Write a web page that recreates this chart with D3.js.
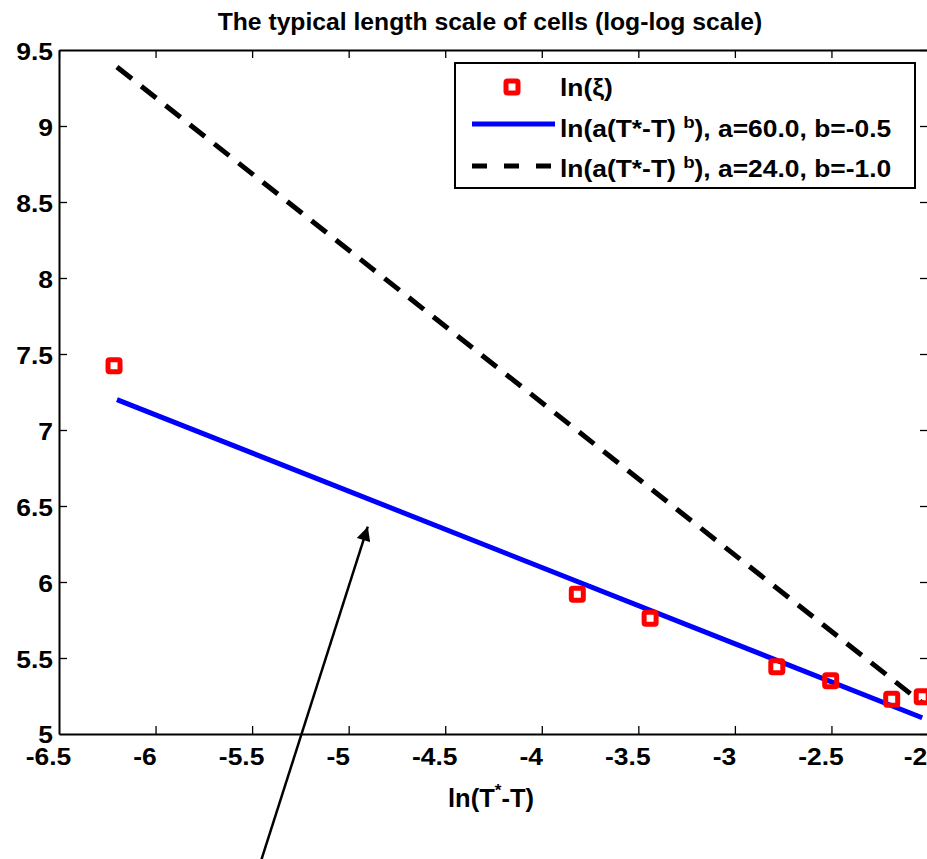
<!DOCTYPE html>
<html>
<head>
<meta charset="utf-8">
<script src="https://cdn.jsdelivr.net/npm/d3@7"></script>
<style>
  html, body { margin: 0; padding: 0; background: #fff; overflow: hidden; }
  svg { display: block; }
  text { font-family: "Liberation Sans", Arial, Helvetica, sans-serif; font-weight: bold; fill: #000; }
</style>
</head>
<body>
<svg id="chart" width="927" height="859"></svg>
<script>
// ---- data ----
const dataX = [-6.215, -3.816, -3.439, -2.783, -2.504, -2.188, -2.03];
const dataY = [7.423, 5.919, 5.761, 5.443, 5.351, 5.228, 5.245];

const fitX = [-6.2, -2.03];
const fitBlue = [7.20, 5.107];   // ln(60 (T*-T)^-0.5)
const fitBlack = [9.388, 5.204]; // ln(24 (T*-T)^-1.0)

const xTicks = [-6.5, -6, -5.5, -5, -4.5, -4, -3.5, -3, -2.5, -2];
const xTickLabels = ["-6.5", "-6", "-5.5", "-5", "-4.5", "-4", "-3.5", "-3", "-2.5", "-2"];
const yTicks = [5, 5.5, 6, 6.5, 7, 7.5, 8, 8.5, 9, 9.5];
const yTickLabels = ["5", "5.5", "6", "6.5", "7", "7.5", "8", "8.5", "9", "9.5"];

// annotation arrow (data coordinates: tail, tip)
const arrowX = [-5.469, -4.901];
const arrowY = [4.105, 6.364];

const titleText = "The typical length scale of cells (log-log scale)";
const legendLabels = ["ln(ξ)", ["60.0", "-0.5"], ["24.0", "-1.0"]];

// ---- layout ----
const svg = d3.select("#chart");
const mLeft = 59, mRight = 928, mTop = 50, mBottom = 734;
const x = d3.scaleLinear().domain([-6.5, -2]).range([mLeft, mRight]);
const y = d3.scaleLinear().domain([5, 9.5]).range([mBottom, mTop]);
const SX = 1.15; // horizontal stretch of the reference's glyphs

const defs = svg.append("defs");
defs.append("clipPath").attr("id", "plotclip")
  .append("rect").attr("x", mLeft).attr("y", mTop).attr("width", mRight - mLeft).attr("height", mBottom - mTop);
defs.append("marker").attr("id", "arrowhead")
  .attr("viewBox", "0 0 10 10").attr("refX", 10).attr("refY", 5)
  .attr("markerWidth", 15).attr("markerHeight", 14).attr("markerUnits", "userSpaceOnUse")
  .attr("orient", "auto")
  .append("path").attr("d", "M0,0 L10,5 L0,10 Z").attr("fill", "#000");

// title
svg.append("text").attr("x", 490).attr("y", 30)
  .attr("text-anchor", "middle").style("font-size", "24.7px")
  .text(titleText);

// axes (MATLAB-like box with inward ticks)
const xAxisB = d3.axisBottom(x).tickValues(xTicks).tickSize(-8).tickFormat((d, i) => xTickLabels[i]).tickSizeOuter(0);
const xAxisT = d3.axisTop(x).tickValues(xTicks).tickSize(-8).tickFormat("").tickSizeOuter(0);
const yAxisL = d3.axisLeft(y).tickValues(yTicks).tickSize(-8).tickFormat((d, i) => yTickLabels[i]).tickSizeOuter(0);
const yAxisR = d3.axisRight(y).tickValues(yTicks).tickSize(-8).tickFormat("").tickSizeOuter(0);

const gB = svg.append("g").attr("transform", `translate(0,${mBottom})`).call(xAxisB);
const gT = svg.append("g").attr("transform", `translate(0,${mTop})`).call(xAxisT);
const gL = svg.append("g").attr("transform", `translate(${mLeft},0)`).call(yAxisL);
const gR = svg.append("g").attr("transform", `translate(${mRight},0)`).call(yAxisR);
[gB, gT, gL, gR].forEach(g => {
  g.select(".domain").attr("stroke", "#000").attr("stroke-width", 2);
  g.selectAll(".tick line").attr("stroke", "#000").attr("stroke-width", 1.3);
  g.selectAll(".tick text").attr("fill", "#000")
    .style("font-family", '"Liberation Sans", Arial, sans-serif')
    .style("font-weight", "bold").style("font-size", "23px");
});
gB.selectAll(".tick text").attr("x", 0).attr("y", 0).attr("dy", 0)
  .attr("transform", d => `translate(${d === -2 ? -13 : -11},31) scale(${SX},1)`);
gL.selectAll(".tick text").attr("x", 0).attr("y", 0).attr("dy", 0)
  .attr("transform", d => `translate(-6,${d === 5 ? 8.5 : 9.5}) scale(${SX},1)`);
gB.selectAll(".tick").filter(d => d === -6.5).select("line").remove();
gB.selectAll(".tick").filter(d => d === -2).select("line").remove();
gL.selectAll(".tick").filter(d => d === 5 || d === 9.5).select("line").remove();

// x label
const xl = svg.append("text").attr("x", 491).attr("y", 807)
  .attr("text-anchor", "middle").style("font-size", "25.5px");
xl.append("tspan").text("ln(T");
xl.append("tspan").text("*").style("font-size", "17px").attr("dy", -11);
xl.append("tspan").text("-T)").attr("dy", 11);

// plot content
const plot = svg.append("g").attr("clip-path", "url(#plotclip)");
const line = d3.line().x(d => x(d[0])).y(d => y(d[1]));

plot.append("path").datum(fitX.map((v, i) => [v, fitBlack[i]]))
  .attr("d", line).attr("fill", "none").attr("stroke", "#000")
  .attr("stroke-width", 5).attr("stroke-dasharray", "19,12");

plot.append("path").datum(fitX.map((v, i) => [v, fitBlue[i]]))
  .attr("d", line).attr("fill", "none").attr("stroke", "#0000ff")
  .attr("stroke-width", 5);

plot.selectAll("rect.pt").data(dataX.map((v, i) => [v, dataY[i]]))
  .join("rect").attr("class", "pt")
  .attr("x", d => x(d[0]) - 6).attr("y", d => y(d[1]) - 6)
  .attr("width", 12).attr("height", 12).attr("rx", 1.5)
  .attr("fill", "none").attr("stroke", "#ff0000").attr("stroke-width", 5);

// legend
const lg = svg.append("g");
lg.append("rect").attr("x", 455).attr("y", 63).attr("width", 460).attr("height", 125)
  .attr("fill", "#fff").attr("stroke", "#000").attr("stroke-width", 2);
const rows = [96, 137, 177];
lg.append("rect").attr("x", 512 - 6).attr("y", rows[0] - 9 - 6).attr("width", 12).attr("height", 12)
  .attr("rx", 1.5).attr("fill", "none").attr("stroke", "#ff0000").attr("stroke-width", 5);
lg.append("line").attr("x1", 472).attr("x2", 555).attr("y1", rows[1] - 13).attr("y2", rows[1] - 13)
  .attr("stroke", "#0000ff").attr("stroke-width", 5);
lg.append("line").attr("x1", 472).attr("x2", 555).attr("y1", rows[2] - 11).attr("y2", rows[2] - 11)
  .attr("stroke", "#000").attr("stroke-width", 5).attr("stroke-dasharray", "15,17");
const LSX = 1.10;
lg.append("text").attr("transform", `translate(560,${rows[0]}) scale(${LSX},1)`)
  .style("font-size", "24px").text(legendLabels[0]);
legendLabels.slice(1).forEach((p, i) => {
  const t = lg.append("text").attr("transform", `translate(560,${rows[i + 1]}) scale(${LSX},1)`)
    .style("font-size", "24px");
  t.append("tspan").text("ln(a(T*-T) ");
  t.append("tspan").text("b").style("font-size", "17px").attr("dy", -9);
  t.append("tspan").text(`), a=${p[0]}, b=${p[1]}`).attr("dy", 9);
});

// annotation arrow
svg.append("line")
  .attr("x1", x(arrowX[0])).attr("y1", y(arrowY[0]))
  .attr("x2", x(arrowX[1])).attr("y2", y(arrowY[1]))
  .attr("stroke", "#000").attr("stroke-width", 2.5)
  .attr("marker-end", "url(#arrowhead)");
</script>
</body>
</html>
